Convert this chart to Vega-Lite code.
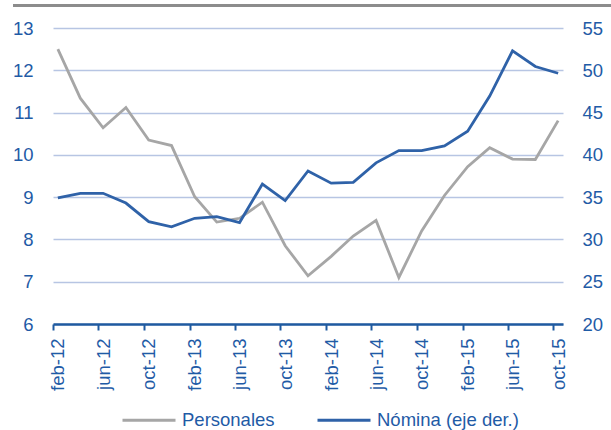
{
  "$schema": "https://vega.github.io/schema/vega-lite/v6.json",
  "width": 510,
  "height": 296,
  "autosize": {"type": "none"},
  "padding": {"left": 53, "top": 28, "right": 48, "bottom": 106},
  "background": "white",
  "config": {
    "view": {"stroke": null},
    "font": "Liberation Sans",
    "axis": {"labelFont": "Liberation Sans", "labelFontSize": 18.5, "labelColor": "#1f5ba6", "title": null},
    "legend": {"labelFont": "Liberation Sans", "labelFontSize": 18.5, "labelColor": "#1f5ba6"}
  },
  "data": {
    "values": [
      {"fecha": "2012-02-01T00:00", "personales": 12.50, "nomina": 34.9},
      {"fecha": "2012-04-01T00:00", "personales": 11.34, "nomina": 35.45},
      {"fecha": "2012-06-01T00:00", "personales": 10.64, "nomina": 35.45},
      {"fecha": "2012-08-01T00:00", "personales": 11.12, "nomina": 34.3},
      {"fecha": "2012-10-01T00:00", "personales": 10.35, "nomina": 32.1},
      {"fecha": "2012-12-01T00:00", "personales": 10.22, "nomina": 31.5},
      {"fecha": "2013-02-01T00:00", "personales": 9.01, "nomina": 32.5},
      {"fecha": "2013-04-01T00:00", "personales": 8.41, "nomina": 32.7},
      {"fecha": "2013-06-01T00:00", "personales": 8.50, "nomina": 32.0},
      {"fecha": "2013-08-01T00:00", "personales": 8.88, "nomina": 36.55},
      {"fecha": "2013-10-01T00:00", "personales": 7.85, "nomina": 34.6},
      {"fecha": "2013-12-01T00:00", "personales": 7.14, "nomina": 38.1},
      {"fecha": "2014-02-01T00:00", "personales": 7.60, "nomina": 36.65},
      {"fecha": "2014-04-01T00:00", "personales": 8.08, "nomina": 36.75},
      {"fecha": "2014-06-01T00:00", "personales": 8.45, "nomina": 39.05},
      {"fecha": "2014-08-01T00:00", "personales": 7.10, "nomina": 40.5},
      {"fecha": "2014-10-01T00:00", "personales": 8.20, "nomina": 40.5},
      {"fecha": "2014-12-01T00:00", "personales": 9.04, "nomina": 41.05},
      {"fecha": "2015-02-01T00:00", "personales": 9.72, "nomina": 42.8},
      {"fecha": "2015-04-01T00:00", "personales": 10.17, "nomina": 46.95},
      {"fecha": "2015-06-01T00:00", "personales": 9.90, "nomina": 52.3},
      {"fecha": "2015-08-01T00:00", "personales": 9.89, "nomina": 50.45},
      {"fecha": "2015-10-01T00:00", "personales": 10.81, "nomina": 49.65}
    ]
  },
  "encoding": {
    "x": {
      "field": "fecha",
      "type": "temporal",
      "scale": {"domain": [{"year": 2012, "month": 1, "date": 19}, {"year": 2015, "month": 10, "date": 14}]},
      "axis": {
        "values": [
          {"year": 2012, "month": 2, "date": 1}, {"year": 2012, "month": 6, "date": 1}, {"year": 2012, "month": 10, "date": 1},
          {"year": 2013, "month": 2, "date": 1}, {"year": 2013, "month": 6, "date": 1}, {"year": 2013, "month": 10, "date": 1},
          {"year": 2014, "month": 2, "date": 1}, {"year": 2014, "month": 6, "date": 1}, {"year": 2014, "month": 10, "date": 1},
          {"year": 2015, "month": 2, "date": 1}, {"year": 2015, "month": 6, "date": 1}, {"year": 2015, "month": 10, "date": 1}
        ],
        "labelExpr": "lower(timeFormat(datum.value, '%b-%y'))",
        "labelAngle": -90,
        "labelPadding": 8,
        "grid": false,
        "domainColor": "#1f5aa0",
        "domainWidth": 2.5,
        "tickColor": "#1f5aa0",
        "tickWidth": 2,
        "tickSize": 6,
        "tickOffset": -5,
        "labelOffset": 5,
        "title": null
      }
    }
  },
  "layer": [
    {
      "layer": [
        {
          "mark": {"type": "line", "strokeWidth": 2.8},
          "encoding": {
            "y": {
              "field": "personales",
              "type": "quantitative",
              "scale": {"domain": [6, 13], "nice": false, "zero": false},
              "axis": {
                "orient": "left",
                "values": [6, 7, 8, 9, 10, 11, 12, 13],
                "grid": true,
                "gridColor": "#b7c5e3",
                "gridWidth": 1.5,
                "domain": false,
                "ticks": false,
                "labelPadding": 20,
                "title": null
              }
            },
            "color": {"datum": "Personales"}
          }
        },
        {
          "mark": {"type": "rule", "color": "#8c8c8c", "strokeWidth": 2, "clip": false},
          "encoding": {
            "x": {"datum": {"year": 2011, "month": 10, "date": 6}, "type": "temporal"},
            "x2": {"datum": {"year": 2016, "month": 2, "date": 18}},
            "y": {"datum": 13.53, "type": "quantitative"}
          }
        }
      ]
    },
    {
      "mark": {"type": "line", "strokeWidth": 2.8},
      "encoding": {
        "y": {
          "field": "nomina",
          "type": "quantitative",
          "scale": {"domain": [20, 55], "nice": false, "zero": false},
          "axis": {
            "orient": "right",
            "values": [20, 25, 30, 35, 40, 45, 50, 55],
            "grid": false,
            "domain": false,
            "ticks": false,
            "labelPadding": 19,
            "title": null
          }
        },
        "color": {
          "datum": "Nómina (eje der.)",
          "scale": {"domain": ["Personales", "Nómina (eje der.)"], "range": ["#a6a6a6", "#2f62a8"]},
          "legend": {
            "title": null,
            "orient": "none",
            "direction": "horizontal",
            "legendX": 68,
            "legendY": 364,
            "symbolType": "stroke",
            "symbolSize": 2809,
            "symbolStrokeWidth": 3,
            "labelOffset": 5,
            "columnPadding": 36
          }
        }
      }
    }
  ],
  "resolve": {"scale": {"y": "independent"}}
}
